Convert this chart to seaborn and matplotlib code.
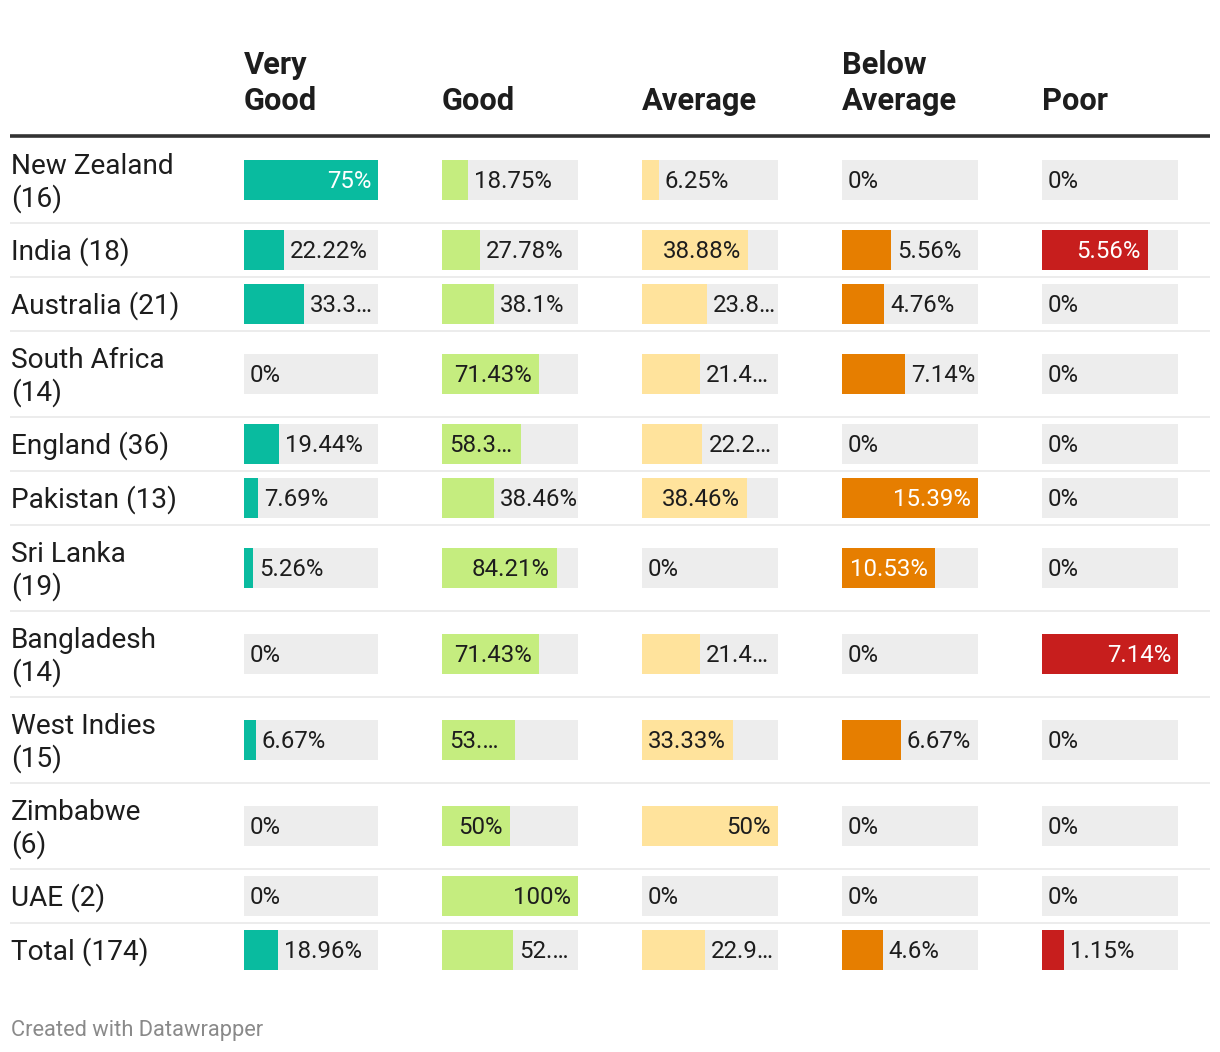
import numpy as np
import pandas as pd
import matplotlib.pyplot as plt
import seaborn as sns

###################################
# Data read off the table

countries = ["New Zealand\n(16)", "India (18)", "Australia (21)",
             "South Africa\n(14)", "England (36)", "Pakistan (13)",
             "Sri Lanka\n(19)", "Bangladesh\n(14)", "West Indies\n(15)",
             "Zimbabwe\n(6)", "UAE (2)", "Total (174)"]

columns = ["Very\nGood", "Good", "Average", "Below\nAverage", "Poor"]

very_good = [75, 22.22, 33.33, 0, 19.44, 7.69, 5.26, 0, 6.67, 0, 0, 18.96]
good = [18.75, 27.78, 38.1, 71.43, 58.33, 38.46, 84.21, 71.43, 53.33, 50, 100, 52.2989]
average = [6.25, 38.88, 23.81, 21.43, 22.22, 38.46, 0, 21.43, 33.33, 50, 0, 22.9885]
below_average = [0, 5.56, 4.76, 7.14, 0, 15.39, 10.53, 0, 6.67, 0, 0, 4.6]
poor = [0, 5.56, 0, 0, 0, 0, 0, 7.14, 0, 0, 0, 1.15]

series = [very_good, good, average, below_average, poor]
colors = ["#09bb9f", "#c5ed7f", "#ffe39c", "#e67e00", "#c71e1d"]
dark_bar = [True, False, False, True, True]

###################################
# Layout (pixels)

W, H = 1220, 1052
col_x = [244, 442, 642, 842, 1042]
col_w = [134, 136, 136, 136, 136]
bar_h = 40
top = 137
text_c = "#1d1d1d"
val_size = 17.3
row_size = 20.2
head_size = 22.2

sns.set_theme(style="white")
plt.rcParams["font.family"] = ["Roboto", "DejaVu Sans"]

fig = plt.figure(figsize=(W / 100, H / 100), dpi=100)
bg = fig.add_axes([0, 0, 1, 1])
bg.set_xlim(0, W)
bg.set_ylim(H, 0)
bg.axis("off")
renderer = fig.canvas.get_renderer()


def text_width(s, size=val_size):
    t = fig.text(0, 0, s, fontsize=size)
    w = t.get_window_extent(renderer).width
    t.remove()
    return w


def truncate(s, avail):
    """Cut a label down with an ellipsis until it fits."""
    if text_width(s) <= avail:
        return s
    while len(s) > 1:
        s = s[:-1]
        if text_width(s + "\u2026") <= avail:
            break
    return s + "\u2026"


# Row heights: wrapped labels get a taller row.
n_lines = [lab.count("\n") + 1 for lab in countries]
row_h = [86 if n > 1 else 54 for n in n_lines]
edges = top + np.concatenate([[0], np.cumsum(row_h)])
centers = (edges[:-1] + edges[1:]) / 2
gap = np.diff(centers).min()

# Header and row rules.
bg.plot([10, 1210], [136, 136], color="#333333", lw=2.6, solid_capstyle="butt")
for e in edges[1:-1]:
    bg.plot([10, 1210], [e, e], color="#ececec", lw=1.4, solid_capstyle="butt")

# Column headers, bottom line on a common baseline.
for x, name in zip(col_x, columns):
    lines = name.split("\n")
    for k, line in enumerate(reversed(lines)):
        bg.text(x, 110 - 36 * k, line, fontsize=head_size, fontweight="bold",
                color=text_c, va="baseline", ha="left")

# Row labels.
for lab, c, n in zip(countries, centers, n_lines):
    for i, line in enumerate(lab.split("\n")):
        y = c + 10 + (i - (n - 1) / 2) * 33
        bg.text(11, y, line, fontsize=row_size, color=text_c,
                va="baseline", ha="left")

# Bars, one axes per column so each column has its own scale.
for j, vals in enumerate(series):
    cw = col_w[j]
    ax = fig.add_axes([col_x[j] / W, 0, cw / W, 1])
    ax.set_facecolor("none")
    vmax = max(vals)
    df = pd.DataFrame({"value": vals, "row": centers})
    sns.barplot(data=df.assign(value=vmax), x="value", y="row", orient="y",
                native_scale=True, color="#ededed", saturation=1,
                width=bar_h / gap, errorbar=None, linewidth=0, ax=ax)
    sns.barplot(data=df, x="value", y="row", orient="y",
                native_scale=True, color=colors[j], saturation=1,
                width=bar_h / gap, errorbar=None, linewidth=0, ax=ax)
    ax.set_xlim(0, vmax)
    ax.set_ylim(H, 0)
    ax.axis("off")

    x0 = ax.transData.transform((0, 0))[0]
    for v, c in zip(vals, centers):
        full = f"{v:g}%"
        bar_px = ax.transData.transform((v, 0))[0] - x0
        tw = text_width(full)
        if v / vmax >= 0.5 and tw <= bar_px + 8:
            col = "white" if dark_bar[j] else text_c
            if tw <= bar_px - 10:
                ax.annotate(full, xy=(v, c), xytext=(-7, -8),
                            textcoords="offset pixels", ha="right",
                            va="baseline", fontsize=val_size, color=col)
            else:
                s = truncate(full, bar_px - 16)
                ax.annotate(s, xy=(0, c), xytext=(7, -8),
                            textcoords="offset pixels", ha="left",
                            va="baseline", fontsize=val_size, color=col)
        else:
            s = truncate(full, cw - bar_px - 3)
            ax.annotate(s, xy=(v, c), xytext=(6, -8),
                        textcoords="offset pixels", ha="left",
                        va="baseline", fontsize=val_size, color=text_c)

bg.text(11, 1036, "Created with Datawrapper", fontsize=15.75, color="#8a8a8a",
        va="baseline", ha="left")

fig.savefig("out.png", dpi=100)
